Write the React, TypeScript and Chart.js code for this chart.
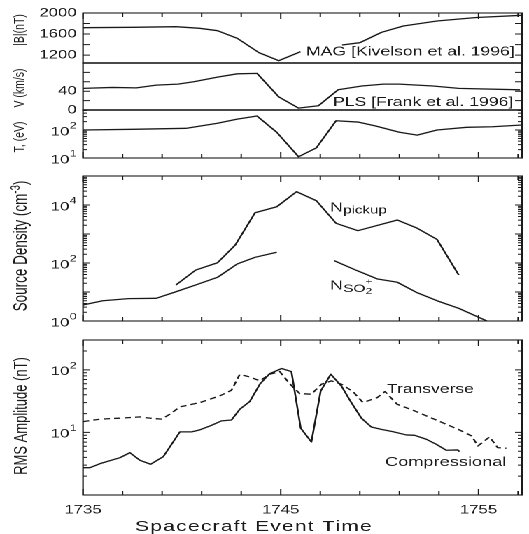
import React, { useEffect, useRef } from "react";
import { Chart, registerables } from "chart.js";

Chart.register(...registerables);

// ---------------- data ----------------
const xMin = 1735;
const xMax = 1757.2;
const xTickValues = [1735, 1737, 1739, 1741, 1743, 1745, 1747, 1749, 1751, 1753, 1755, 1757];
const xMajorTicks = [1735, 1745, 1755];
const xTickLabels = [1735, 1745, 1755];

// |B| (nT) - MAG
const magTime = [1735, 1737.5, 1739.7, 1740.9, 1741.8, 1742.8, 1743.9, 1744.9, 1746.0, 1747.2, 1748.1, 1749.0, 1750.1, 1751.2, 1752.9, 1754.9, 1757.2];
const magField = [1721, 1728, 1740, 1709, 1664, 1519, 1246, 1094, 1265, null, 1392, 1436, 1633, 1753, 1848, 1915, 1956];

// V (km/s) - PLS
const plsTime = [1735, 1736.5, 1737.7, 1738.7, 1739.8, 1740.6, 1741.8, 1742.8, 1743.8, 1744.9, 1745.9, 1746.9, 1747.9, 1749.1, 1750.2, 1751.0, 1752.7, 1754.0, 1757.1];
const plsSpeed = [46, 48, 47, 53, 55, 60, 70, 77, 78, 28, 4, 9, 43, 51, 55, 55, 51, 46, 43];

// T (eV)
const tempTime = [1735, 1737.5, 1740.2, 1741.8, 1742.8, 1743.8, 1744.8, 1745.9, 1746.8, 1747.8, 1748.9, 1749.8, 1751.0, 1751.9, 1752.9, 1754.4, 1755.7, 1757.2];
const tempEV = [100, 106, 115, 174, 246, 316, 83, 11.1, 23, 215, 193, 139, 83, 66, 100, 125, 131, 151];

// Source density (cm^-3)
const pickupTime = [1739.7, 1740.7, 1741.8, 1742.7, 1743.7, 1744.8, 1745.8, 1746.8, 1747.8, 1748.9, 1750.9, 1751.9, 1752.9, 1754.0];
const pickupDensity = [17.5, 57, 102, 417, 5400, 8700, 28800, 14100, 2340, 1300, 3030, 1580, 655, 38.6];
const so2Time = [1735, 1736.0, 1737.3, 1738.7, 1739.7, 1740.7, 1741.8, 1742.8, 1743.7, 1744.8, 1746.3, 1747.7, 1748.9, 1749.9, 1750.9, 1751.9, 1752.9, 1754.0, 1755.5];
const so2Density = [3.56, 5.0, 5.9, 6.06, 10.2, 17.5, 32, 93, 157, 234, null, 120, 53, 28, 21.6, 9.45, 5.0, 2.74, 0.95];

// RMS amplitude (nT)
const compTime = [1735, 1735.35, 1735.86, 1736.87, 1737.37, 1737.88, 1738.42, 1739.06, 1739.9, 1740.49, 1740.91, 1741.5, 1742.0, 1742.51, 1742.93, 1743.43, 1743.94, 1744.44, 1745.04, 1745.54, 1746.01, 1746.55, 1747.02, 1747.53, 1748.07, 1748.57, 1749.08, 1749.58, 1750.09, 1750.66, 1751.35, 1751.77, 1752.36, 1752.86, 1753.37, 1753.95, 1754.04];
const compAmp = [2.73, 2.73, 3.17, 3.95, 4.75, 3.59, 3.1, 4.1, 10.2, 10.2, 11.0, 13.0, 15.3, 15.8, 23.5, 31.1, 59, 87, 105, 94, 11.7, 7.05, 46, 85, 55, 30, 16.9, 12.2, 11.2, 10.3, 9.12, 9.0, 7.78, 6.47, 5.19, 5.25, 4.93];
const transTime = [1735, 1735.86, 1736.87, 1737.88, 1738.38, 1738.97, 1739.39, 1739.9, 1740.91, 1741.92, 1742.51, 1742.93, 1743.43, 1743.94, 1744.44, 1744.95, 1745.45, 1745.96, 1746.55, 1747.06, 1747.56, 1748.07, 1748.65, 1749.16, 1749.88, 1750.27, 1750.88, 1751.78, 1752.97, 1753.97, 1754.65, 1754.97, 1755.56, 1755.97, 1756.41];
const transAmp = [14.9, 16.3, 16.9, 17.7, 16.9, 16.3, 19.5, 25.6, 30, 38.4, 47.3, 85, 77, 66.7, 85, 94, 60, 41.8, 40.8, 59, 66.7, 59, 45, 30, 36, 45, 28.3, 22, 15.3, 11.2, 8.79, 6.08, 8.47, 5.71, 5.59];

// ---------------- layout ----------------
const W = 378; // logical width, stretched horizontally to 529
const H = 534;
const S = 529 / W;
const LEFT = 83 / S;
const RIGHT = 522 / S;
const INK = "#1a1a1a";
const FONT = '"Liberation Sans", Arial, Helvetica, sans-serif';

type Seg = { text: string; size: number; rise: number; sameX?: boolean };
type Note = { x: number; y: number; segs: Seg[] };
type Series = { t: number[]; v: (number | null)[]; dash?: number[] };
type Panel = {
  top: number;
  bottom: number;
  type: "linear" | "logarithmic";
  min: number;
  max: number;
  linTicks?: number[];
  linLabels?: number[];
  logLabels?: number[];
  ticksTop: boolean;
  ticksBottom: boolean;
  xLabels: boolean;
  title: { parts: Seg[]; x: number; y: number };
  notes: Note[];
  series: Series[];
};

const panels: Panel[] = [
  {
    top: 13, bottom: 63, type: "linear", min: 1050, max: 2000,
    linTicks: [1200, 1400, 1600, 1800], linLabels: [1200, 1600, 2000],
    ticksTop: true, ticksBottom: false, xLabels: false,
    title: { parts: [{ text: "|B|(nT)", size: 10.5, rise: 0 }], x: 18.5, y: 30 },
    notes: [{ x: 306, y: 55.5, segs: [{ text: "MAG [Kivelson et al. 1996]", size: 12.6, rise: 0 }] }],
    series: [{ t: magTime, v: magField }],
  },
  {
    top: 63, bottom: 110, type: "linear", min: 0, max: 100,
    linTicks: [20, 40, 60, 80], linLabels: [0, 40],
    ticksTop: false, ticksBottom: false, xLabels: false,
    title: { parts: [{ text: "V (km/s)", size: 10.5, rise: 0 }], x: 18.5, y: 88 },
    notes: [{ x: 333, y: 106, segs: [{ text: "PLS [Frank et al. 1996]", size: 12.6, rise: 0 }] }],
    series: [{ t: plsTime, v: plsSpeed }],
  },
  {
    top: 110, bottom: 158, type: "logarithmic", min: 10, max: 520,
    logLabels: [1, 2],
    ticksTop: false, ticksBottom: true, xLabels: false,
    title: { parts: [{ text: "T, (eV)", size: 10.5, rise: 0 }], x: 18.5, y: 137 },
    notes: [],
    series: [{ t: tempTime, v: tempEV }],
  },
  {
    top: 176, bottom: 321, type: "logarithmic", min: 1, max: 100000,
    logLabels: [0, 2, 4],
    ticksTop: true, ticksBottom: true, xLabels: false,
    title: {
      parts: [
        { text: "Source Density (cm", size: 13.5, rise: 0 },
        { text: "-3", size: 9.5, rise: 5 },
        { text: ")", size: 13.5, rise: 0 },
      ],
      x: 19.5, y: 246,
    },
    notes: [
      { x: 330, y: 211.5, segs: [{ text: "N", size: 13, rise: 0 }, { text: "pickup", size: 10.8, rise: -2 }] },
      {
        x: 330, y: 289.5,
        segs: [
          { text: "N", size: 13, rise: 0 },
          { text: "SO", size: 11, rise: -2.5 },
          { text: "2", size: 8.5, rise: -4.5 },
          { text: "+", size: 8.5, rise: 5.5, sameX: true },
        ],
      },
    ],
    series: [{ t: pickupTime, v: pickupDensity }, { t: so2Time, v: so2Density }],
  },
  {
    top: 340, bottom: 495, type: "logarithmic", min: 1, max: 300,
    logLabels: [1, 2],
    ticksTop: true, ticksBottom: true, xLabels: true,
    title: { parts: [{ text: "RMS Amplitude (nT)", size: 13, rise: 0 }], x: 20, y: 416 },
    notes: [
      { x: 387, y: 393, segs: [{ text: "Transverse", size: 12.5, rise: 0 }] },
      { x: 385, y: 466, segs: [{ text: "Compressional", size: 13, rise: 0 }] },
    ],
    series: [{ t: compTime, v: compAmp }, { t: transTime, v: transAmp, dash: [4.5, 3] }],
  },
];

function logTickList(min: number, max: number) {
  const out: { v: number; major: boolean }[] = [];
  for (let e = Math.floor(Math.log10(min)); e <= Math.ceil(Math.log10(max)); e++) {
    for (let d = 1; d <= 9; d++) {
      const v = d * Math.pow(10, e);
      if (v > min * 1.0001 && v < max * 0.9999) out.push({ v, major: d === 1 });
    }
  }
  return out;
}

function drawSegs(ctx: CanvasRenderingContext2D, x: number, y: number, segs: Seg[]) {
  let cx = x;
  let lastX = x;
  ctx.textAlign = "left";
  ctx.textBaseline = "alphabetic";
  for (const s of segs) {
    ctx.font = `${s.size}px ${FONT}`;
    const px = s.sameX ? lastX : cx;
    ctx.fillText(s.text, px, y - s.rise);
    const w = ctx.measureText(s.text).width;
    if (!s.sameX) {
      lastX = cx;
      cx += w;
    }
  }
}

function makeDecor(p: Panel) {
  return {
    id: "decor",
    afterDraw(chart: any) {
      const ctx: CanvasRenderingContext2D = chart.ctx;
      const a = chart.chartArea;
      const xs = chart.scales.x;
      const ys = chart.scales.y;
      ctx.save();
      ctx.strokeStyle = INK;
      ctx.fillStyle = INK;
      ctx.lineWidth = 1;

      // y ticks (inside, both sides)
      const yt =
        p.type === "linear"
          ? (p.linTicks || []).map((v) => ({ v, major: true }))
          : logTickList(p.min, p.max);
      ctx.beginPath();
      for (const t of yt) {
        const py = ys.getPixelForValue(t.v);
        const len = t.major ? 5 : 3;
        ctx.moveTo(a.left, py);
        ctx.lineTo(a.left + len, py);
        ctx.moveTo(a.right, py);
        ctx.lineTo(a.right - len, py);
      }
      // x ticks (inside)
      for (const t of xTickValues) {
        const px = xs.getPixelForValue(t);
        const len = xMajorTicks.includes(t) ? 6 : 4;
        if (p.ticksTop) {
          ctx.moveTo(px, a.top);
          ctx.lineTo(px, a.top + len);
        }
        if (p.ticksBottom) {
          ctx.moveTo(px, a.bottom);
          ctx.lineTo(px, a.bottom - len);
        }
      }
      ctx.stroke();

      // frame
      ctx.lineWidth = 1.1;
      ctx.strokeRect(a.left, a.top, a.right - a.left, a.bottom - a.top);

      // y tick labels
      const lx = a.left - 4.5;
      if (p.linLabels) {
        ctx.font = `12px ${FONT}`;
        ctx.textAlign = "right";
        ctx.textBaseline = "middle";
        for (const v of p.linLabels) ctx.fillText(String(v), lx, ys.getPixelForValue(v));
      }
      if (p.logLabels) {
        for (const e of p.logLabels) {
          const py = ys.getPixelForValue(Math.pow(10, e));
          ctx.font = `12px ${FONT}`;
          const wb = ctx.measureText("10").width;
          ctx.font = `9px ${FONT}`;
          const we = ctx.measureText(String(e)).width;
          const x0 = lx - wb - we - 0.3;
          ctx.textAlign = "left";
          ctx.textBaseline = "alphabetic";
          ctx.font = `12px ${FONT}`;
          ctx.fillText("10", x0, py + 5.3);
          ctx.font = `9px ${FONT}`;
          ctx.fillText(String(e), x0 + wb + 0.3, py - 1.6);
        }
      }

      // y title (rotated)
      {
        const parts = p.title.parts;
        let total = 0;
        for (const s of parts) {
          ctx.font = `${s.size}px ${FONT}`;
          total += ctx.measureText(s.text).width;
        }
        ctx.save();
        ctx.translate(p.title.x / S, p.title.y);
        ctx.rotate(-Math.PI / 2);
        const base = parts[0].size * 0.36;
        drawSegs(ctx, -total / 2, base, parts);
        ctx.restore();
      }

      // x labels and title
      if (p.xLabels) {
        ctx.font = `12px ${FONT}`;
        ctx.textAlign = "center";
        ctx.textBaseline = "middle";
        for (const t of xTickLabels) ctx.fillText(String(t), xs.getPixelForValue(t), 510);
        ctx.font = `15px ${FONT}`;
        (ctx as any).letterSpacing = "0.9px";
        ctx.fillText("Spacecraft Event Time", 254 / S, 527);
        (ctx as any).letterSpacing = "0px";
      }

      // annotations
      for (const n of p.notes) drawSegs(ctx, n.x / S, n.y, n.segs);

      ctx.restore();
    },
  };
}

function PanelChart({ p }: { p: Panel }) {
  const ref = useRef<HTMLCanvasElement>(null);
  useEffect(() => {
    const canvas = ref.current;
    if (!canvas) return;
    const chart = new Chart(canvas, {
      type: "line",
      data: {
        datasets: p.series.map((s) => ({
          data: s.t.map((t, i) => ({ x: t, y: s.v[i] })) as any,
          borderColor: INK,
          borderWidth: 1.3,
          borderDash: s.dash || [],
          borderJoinStyle: "round" as const,
          pointRadius: 0,
          fill: false,
          tension: 0,
          spanGaps: false,
        })),
      },
      options: {
        responsive: false,
        animation: false,
        devicePixelRatio: 2,
        events: [],
        layout: { padding: { top: p.top, left: 0, right: W - RIGHT, bottom: 0 } },
        plugins: { legend: { display: false }, tooltip: { enabled: false } },
        scales: {
          x: {
            type: "linear",
            min: xMin,
            max: xMax,
            ticks: { display: false },
            grid: { display: false },
            border: { display: false },
            afterFit: (s: any) => {
              s.height = H - p.bottom;
            },
          },
          y: {
            type: p.type,
            min: p.min,
            max: p.max,
            ticks: { display: false },
            grid: { display: false },
            border: { display: false },
            afterFit: (s: any) => {
              s.width = LEFT;
            },
          } as any,
        },
      },
      plugins: [makeDecor(p)],
    });
    return () => chart.destroy();
  }, [p]);
  return (
    <canvas
      ref={ref}
      width={W}
      height={H}
      style={{ position: "absolute", left: 0, top: 0, width: W, height: H }}
    />
  );
}

export default function App() {
  return (
    <div
      style={{
        position: "absolute",
        left: 0,
        top: 0,
        width: W,
        height: H,
        background: "#fff",
        transform: `scaleX(${S})`,
        transformOrigin: "0 0",
        overflow: "hidden",
      }}
    >
      {panels.map((p, i) => (
        <PanelChart key={i} p={p} />
      ))}
    </div>
  );
}
